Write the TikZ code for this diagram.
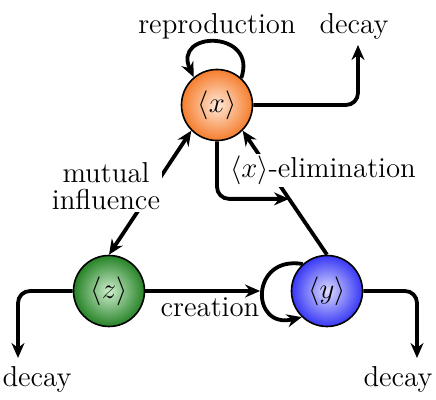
\documentclass[tikz,border=0pt]{standalone}
\usetikzlibrary{arrows.meta}
\definecolor{xout}{RGB}{245,125,45}
\definecolor{xin}{RGB}{255,232,215}
\definecolor{zout}{RGB}{38,130,38}
\definecolor{zin}{RGB}{205,238,205}
\definecolor{yout}{RGB}{55,55,245}
\definecolor{yin}{RGB}{220,220,255}
\tikzset{
  species/.style={circle, draw=black, line width=0.8pt, minimum size=35.5pt, inner sep=0pt, font=\Large},
  tip/.tip={Stealth[length=7.5pt,width=6.5pt,inset=2.5pt]},
  conn/.style={line width=1.9pt, -tip},
  lbl/.style={font=\Large, inner sep=0pt}
}
\begin{document}
\begin{tikzpicture}[x=0.5pt,y=-0.5pt]
\useasboundingbox (0,0) rectangle (436,400);
% species
\node[species, inner color=xin, outer color=xout] (x) at (217,105) {$\langle x\rangle$};
\node[species, inner color=zin, outer color=zout] (z) at (109,291) {$\langle z\rangle$};
\node[species, inner color=yin, outer color=yout] (y) at (327,291) {$\langle y\rangle$};
% labels
\node[lbl, anchor=base] (rep) at (217,34) {reproduction};
\node[lbl, anchor=base] (dtop) at (354,34) {decay};
\node[lbl, anchor=base] (dl) at (37,387) {decay};
\node[lbl, anchor=base] (dr) at (398,387) {decay};
% coordinates for free ends
\coordinate (dtp) at (358,45);
\coordinate (dlp) at (18,358);
\coordinate (drp) at (417,358);
% reproduction loop
\draw[conn] (x.48) .. controls (258,30) and (172,30) .. (x.130);
% decay of x
\draw[conn, rounded corners=6pt] (x.east) -| (dtp);
% decay of z and y
\draw[conn, rounded corners=6pt] (z.west) -| (dlp);
\draw[conn, rounded corners=6pt] (y.east) -| (drp);
% y self loop
\draw[conn] (y.132) .. controls (250,255) and (250,330) .. coordinate[pos=0.5] (yl) (y.226);
% creation
\draw[conn, shorten >=1.5pt] (z.east) -- (z.east -| yl);
\node[lbl, anchor=base] (cre) at (210,317) {creation};
% elimination
\draw[conn] (y.north) -- coordinate[pos=0.45] (el) (x.south east);
\draw[conn, rounded corners=6pt] (x.south) |- (el);
\node[lbl, fill=white, inner sep=1pt, anchor=base] (elim) at (323,178) {$\langle x\rangle$-elimination};
% mutual influence
\draw[line width=1.9pt, tip-tip] (z.north) -- (x.south west);
\node[lbl, fill=white, inner sep=1pt, align=center] (mut) at (106,186) {mutual\\[-4.5pt]influence};
\end{tikzpicture}
\end{document}
